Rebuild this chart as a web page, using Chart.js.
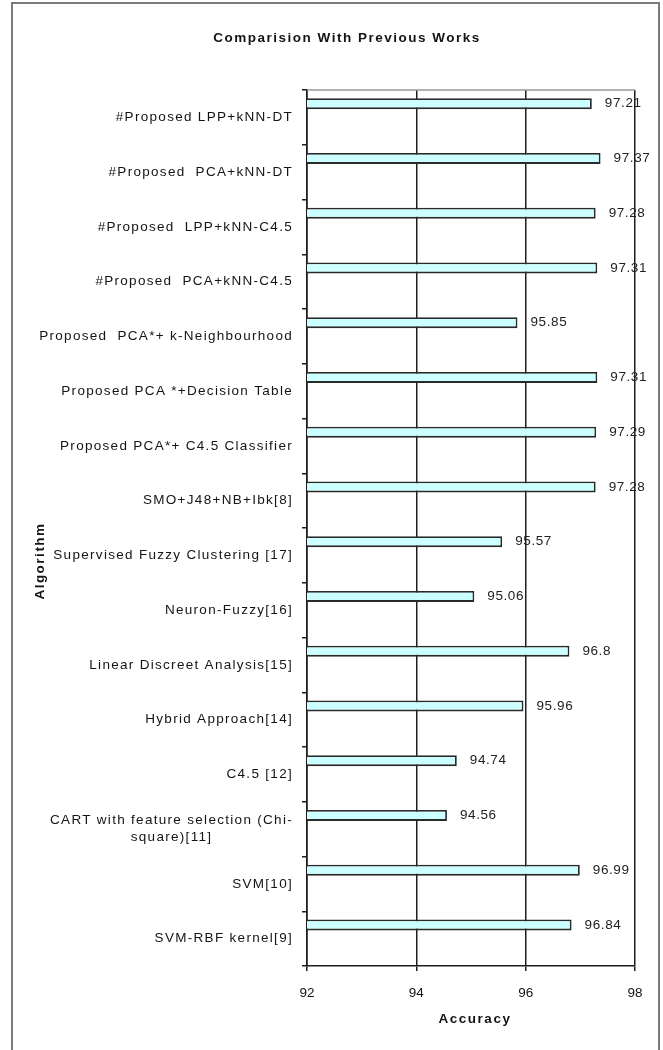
<!DOCTYPE html>
<html>
<head>
<meta charset="utf-8">
<script src="https://cdn.jsdelivr.net/npm/chart.js@4"></script>
<style>
  html, body { margin: 0; padding: 0; background: #fff; }
  #wrap { position: relative; width: 663px; height: 1050px; overflow: hidden; }
  #frame { position: absolute; left: 11px; top: 2px; width: 649px; height: 1100px;
           border: 2px solid #7a7a7a; box-sizing: border-box; }
  canvas { position: absolute; left: 0; top: 0; }
</style>
</head>
<body>
<div id="wrap">
  <div id="frame"></div>
  <canvas id="c" width="663" height="1050"></canvas>
</div>
<script>
// Algorithms, top to bottom
const algorithms = [
  '#Proposed LPP+kNN-DT',
  '#Proposed  PCA+kNN-DT',
  '#Proposed  LPP+kNN-C4.5',
  '#Proposed  PCA+kNN-C4.5',
  'Proposed  PCA*+ k-Neighbourhood',
  'Proposed PCA *+Decision Table',
  'Proposed PCA*+ C4.5 Classifier',
  'SMO+J48+NB+Ibk[8]',
  'Supervised Fuzzy Clustering [17]',
  'Neuron-Fuzzy[16]',
  'Linear Discreet Analysis[15]',
  'Hybrid Approach[14]',
  'C4.5 [12]',
  ['CART with feature selection (Chi-', 'square)[11]'],
  'SVM[10]',
  'SVM-RBF kernel[9]'
];

// Accuracy (%) for each algorithm
const accuracy = [97.21, 97.37, 97.28, 97.31, 95.85, 97.31, 97.29, 97.28,
                  95.57, 95.06, 96.8, 95.96, 94.74, 94.56, 96.99, 96.84];

// Empty companion series (keeps each bar in the upper half of its row)
const spacer = accuracy.map(() => null);

// Accuracy axis ticks
const accuracyTicks = [92, 94, 96, 98];

const chartTitle = 'Comparision With Previous Works';
const xTitle = 'Accuracy';
const yTitle = 'Algorithm';

const TEXT = '#141414';
const FONT = '"Liberation Sans", Arial, sans-serif';

const textPlugin = {
  id: 'texts',
  beforeDatasetsDraw(chart) {
    const { ctx, chartArea: a } = chart;
    ctx.save();
    ctx.strokeStyle = '#9a9a9a';
    ctx.lineWidth = 1.5;
    ctx.beginPath();
    ctx.moveTo(a.left, a.top);
    ctx.lineTo(a.right, a.top);
    ctx.stroke();
    ctx.restore();
  },
  afterDraw(chart) {
    const { ctx, chartArea: a } = chart;
    const y = chart.scales.y;
    ctx.save();
    ctx.fillStyle = TEXT;
    ctx.textBaseline = 'middle';

    // chart title
    ctx.font = 'bold 13.5px ' + FONT;
    ctx.letterSpacing = '1.5px';
    ctx.textAlign = 'center';
    ctx.fillText(chartTitle, 347, 38);

    // axis titles
    ctx.fillText(xTitle, (a.left + a.right) / 2 + 4, 1019);
    ctx.save();
    ctx.translate(40, 561);
    ctx.rotate(-Math.PI / 2);
    ctx.fillText(yTitle, 0, 0);
    ctx.restore();

    // category labels
    ctx.font = '13.5px ' + FONT;
    ctx.letterSpacing = '1.3px';
    const labelRight = a.left - 14;
    algorithms.forEach((lab, i) => {
      const cy = y.getPixelForTick(i);
      if (Array.isArray(lab)) {
        const lh = 17;
        const w = Math.max(...lab.map(s => ctx.measureText(s).width));
        const cx = labelRight - w / 2;
        ctx.textAlign = 'center';
        lab.forEach((s, k) => {
          ctx.fillText(s, cx, cy + (k - (lab.length - 1) / 2) * lh);
        });
      } else {
        ctx.textAlign = 'right';
        ctx.fillText(lab, labelRight, cy);
      }
    });

    // value labels at the end of each bar
    ctx.font = '13.5px ' + FONT;
    ctx.letterSpacing = '0.6px';
    ctx.textAlign = 'left';
    ctx.fillStyle = '#222';
    const meta = chart.getDatasetMeta(0);
    meta.data.forEach((bar, i) => {
      ctx.fillText(String(accuracy[i]), bar.x + 13, bar.y);
    });
    ctx.restore();
  }
};

new Chart(document.getElementById('c'), {
  type: 'bar',
  data: {
    labels: algorithms,
    datasets: [
      {
        data: accuracy,
        backgroundColor: '#ccffff',
        borderColor: '#2a2a2a',
        borderWidth: 1.8,
        borderSkipped: false
      },
      {
        data: spacer,
        backgroundColor: 'rgba(0,0,0,0)',
        borderWidth: 0
      }
    ]
  },
  options: {
    indexAxis: 'y',
    responsive: false,
    animation: false,
    devicePixelRatio: 1,
    categoryPercentage: 1.0,
    barPercentage: 0.4,
    layout: { padding: { top: 90, right: 28, left: 0, bottom: 0 } },
    plugins: {
      legend: { display: false },
      title: { display: false },
      tooltip: { enabled: false }
    },
    scales: {
      x: {
        type: 'linear',
        min: 92,
        max: 98,
        afterBuildTicks: s => { s.ticks = accuracyTicks.map(v => ({ value: v })); },
        afterFit: s => { s.height = 84; },
        grid: { color: '#1e1e1e', lineWidth: 1.5, drawTicks: true, tickLength: 5 },
        border: { display: true, color: '#1e1e1e', width: 1.6 },
        ticks: {
          color: TEXT,
          font: { family: FONT, size: 13.5 },
          padding: 14
        }
      },
      y: {
        type: 'category',
        afterFit: s => { s.width = 307; },
        grid: {
          offset: true,
          drawOnChartArea: false,
          drawTicks: true,
          tickLength: 5,
          color: '#1e1e1e',
          lineWidth: 1.5
        },
        border: { display: true, color: '#1e1e1e', width: 1.6 },
        ticks: { display: false }
      }
    }
  },
  plugins: [textPlugin]
});
</script>
</body>
</html>
